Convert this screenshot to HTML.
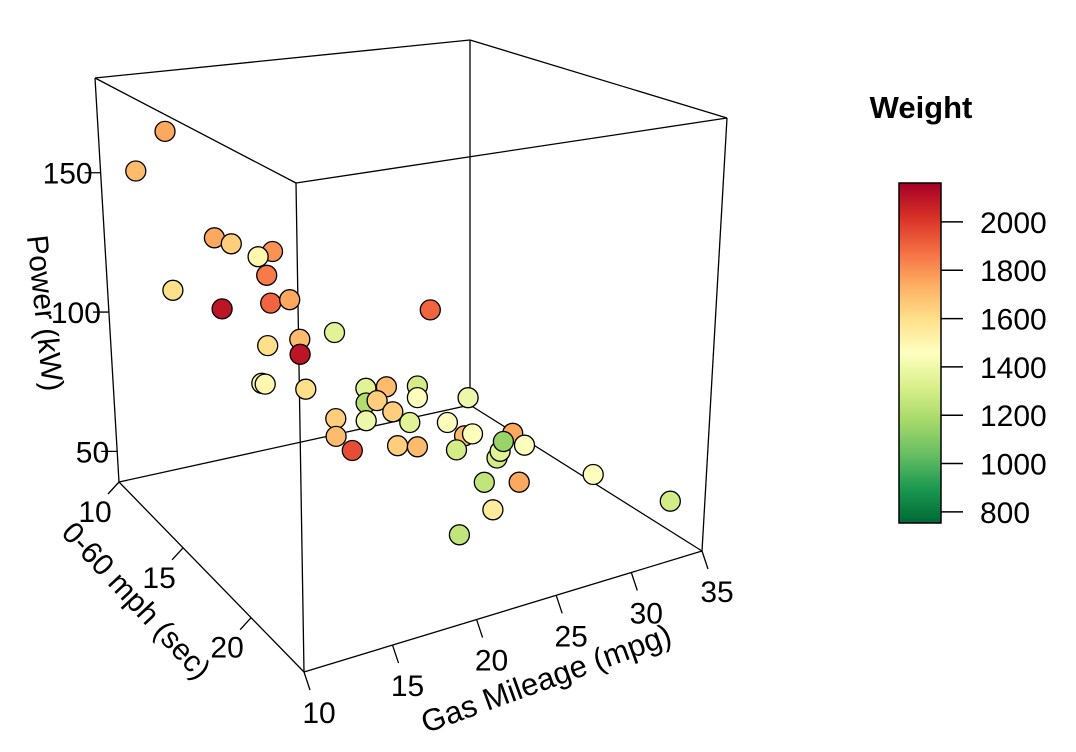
<!DOCTYPE html>
<html><head><meta charset="utf-8"><style>
html,body{margin:0;padding:0;background:#fff;}
svg{display:block;font-family:"Liberation Sans",Arial,sans-serif;}
</style></head><body>
<svg id="chart" width="1076" height="752" viewBox="0 0 1076 752" xmlns="http://www.w3.org/2000/svg">
<g id="box"></g>
<g id="ticks"></g>
<g id="pts"></g>
<text x="0" y="11" font-size="30" text-anchor="middle" transform="translate(46,313) rotate(84)">Power (kW)</text>
<text x="0" y="11" font-size="30" text-anchor="middle" transform="translate(137,600) rotate(47)">0-60 mph (sec)</text>
<text x="0" y="11" font-size="31" text-anchor="middle" transform="translate(546,678) rotate(-20)">Gas Mileage (mpg)</text>
<text x="921" y="118" font-size="31" font-weight="bold" text-anchor="middle">Weight</text>
<defs><linearGradient id="cg" x1="0" y1="1" x2="0" y2="0"></linearGradient></defs>
<rect x="899" y="183" width="42" height="340" fill="url(#cg)" stroke="#000" stroke-width="1.5"></rect>
<g id="leg"></g>
</svg>
<script>
// data: mpg, 0-60 time (sec), power (kW), weight
const mpg   = [14.0,12.1,13.7,14.7,17.2,16.3,16.8,14.0,14.0,17.0,18.2,27.6,15.6,13.7,17.7,15.6,13.3,13.5,15.9,19.6,20.9,22.9,22.9,19.6,20.3,21.3,17.7,19.6,26.3,22.4,24.9,17.7,22.4,22.9,25.5,21.6,22.9,21.9,18.7,24.5,24.7,24.9,26.3,23.7,26.0,31.1,32.5,20.9,18.9];
const accel = [10,10,13.6,13.6,13.6,13.6,13.6,10,13.6,13.6,13.6,13.6,17.1,17.1,17.1,17.1,17.1,17.1,17.1,17.1,17.1,17.1,17.1,17.1,17.1,17.1,17.1,17.1,17.1,17.1,17.1,17.1,20.5,20.5,20.5,17.1,17.1,20.5,17.1,20.5,20.5,20.5,20.5,20.5,20.5,20.5,23.7,23.7,23.7];
const power = [162,149,135,132,127,126,119,104,110,109,109,96,110,110,110,105,98,97.5,93,89,88,86,82,84,84,79,81,78,78,74,71,75,82,82,79,67,65,78,69,72,74,77,74,65,62,58,59,72,67];
const weight= [1750,1700,1750,1650,1800,1500,1850,1600,2100,1900,1750,1900,1700,1600,1350,2100,1500,1500,1600,1350,1700,1300,1450,1200,1650,1650,1650,1400,1400,1350,1450,1700,1700,1450,1750,1650,1700,1300,1950,1300,1350,1150,1450,1250,1750,1450,1300,1550,1250];
const powerTicks=[50,100,150], accelTicks=[10,15,20], mpgTicks=[10,15,20,25,30,35], weightTicks=[800,1000,1200,1400,1600,1800,2000];
const xr=[10,35], yr=[10,23.7], zr=[39,184], wr=[754,2161];
const C={ '000':[119,482],'010':[304,672],'110':[702,551],'100':[470,405],
          '001':[95,78],'011':[296,183],'111':[727,118],'101':[470,40]};
function lerp(a,b,t){return [a[0]+(b[0]-a[0])*t,a[1]+(b[1]-a[1])*t];}
function proj(x,y,z){
  let u=(x-xr[0])/(xr[1]-xr[0]); u=u*(1+0.14*(1-u));
  let t=(y-yr[0])/(yr[1]-yr[0]); t=t*(1-0.08*(1-t));
  const v=(z-zr[0])/(zr[1]-zr[0]);
  const bl=lerp(C['000'],C['010'],t), br=lerp(C['100'],C['110'],t), tl=lerp(C['001'],C['011'],t), tr=lerp(C['101'],C['111'],t);
  return lerp(lerp(bl,br,u),lerp(tl,tr,u),v);
}
const NS='http://www.w3.org/2000/svg';
function mk(tag,parent,attrs){const e=document.createElementNS(NS,tag);for(const k in attrs)e.setAttribute(k,attrs[k]);parent.appendChild(e);return e;}
const box=document.getElementById('box');
[['000','001'],['000','010'],['000','100'],['010','110'],['100','110'],['010','011'],['100','101'],['110','111'],['001','011'],['001','101'],['011','111'],['101','111']].forEach(([a,b])=>{
  const l=mk('line',box,{x1:C[a][0],y1:C[a][1],x2:C[b][0],y2:C[b][1],stroke:'#000','stroke-width':1.3});
  
  
});
const tk=document.getElementById('ticks');
powerTicks.forEach(p=>{const q=proj(xr[0],yr[0],p);
  const l=mk('line',tk,{x1:q[0],y1:q[1],x2:q[0]-16,y2:q[1],stroke:'#000','stroke-width':1.3});
  
  const t=mk('text',tk,{x:q[0]-8,y:q[1]+11,'font-size':30,'text-anchor':'end'});t.textContent=p;
  });
accelTicks.forEach(a=>{const q=proj(xr[0],a,zr[0]);
  const l=mk('line',tk,{x1:q[0],y1:q[1],x2:q[0]-11,y2:q[1]+12,stroke:'#000','stroke-width':1.3});
  
  const t=mk('text',tk,{x:q[0]-24,y:q[1]+40,'font-size':30,'text-anchor':'middle'});t.textContent=a;
  });
mpgTicks.forEach(m=>{const q=proj(m,yr[1],zr[0]);
  const l=mk('line',tk,{x1:q[0],y1:q[1],x2:q[0]+6,y2:q[1]+18,stroke:'#000','stroke-width':1.3});
  
  const t=mk('text',tk,{x:q[0]+15,y:q[1]+51,'font-size':30,'text-anchor':'middle'});t.textContent=m;
  });
const stops=['#006837','#1a9850','#66bd63','#a6d96a','#d9ef8b','#ffffbf','#fee08b','#fdae61','#f46d43','#d73027','#a50026'];
function hex(h){return [1,3,5].map(i=>parseInt(h.substr(i,2),16));}
function col(w){let f=(w-wr[0])/(wr[1]-wr[0]);f=Math.max(0,Math.min(1,f));const s=f*(stops.length-1),i=Math.min(stops.length-2,Math.floor(s)),r=s-i;
  const a=hex(stops[i]),b=hex(stops[i+1]);return 'rgb('+a.map((c,k)=>Math.round(c+(b[k]-c)*r)).join(',')+')';}
const g=document.getElementById('cg');
stops.forEach((s,i)=>mk('stop',g,{offset:(i/(stops.length-1)),'stop-color':s}));
const idx=mpg.map((_,i)=>i).sort((a,b)=>accel[a]-accel[b]);
const pts=document.getElementById('pts');
idx.forEach(i=>{const q=proj(mpg[i],accel[i],power[i]);
  const c=mk('circle',pts,{cx:q[0].toFixed(1),cy:q[1].toFixed(1),r:10,fill:col(weight[i]),stroke:'#000','stroke-width':1.3});
  });
const leg=document.getElementById('leg');
weightTicks.forEach(w=>{const y=523-(w-wr[0])/(wr[1]-wr[0])*340;
  const l=mk('line',leg,{x1:941,y1:y,x2:963,y2:y,stroke:'#000','stroke-width':1.5});
  
  const t=mk('text',leg,{x:980,y:y+11,'font-size':30});t.textContent=w;
  });
</script>
</body></html>
